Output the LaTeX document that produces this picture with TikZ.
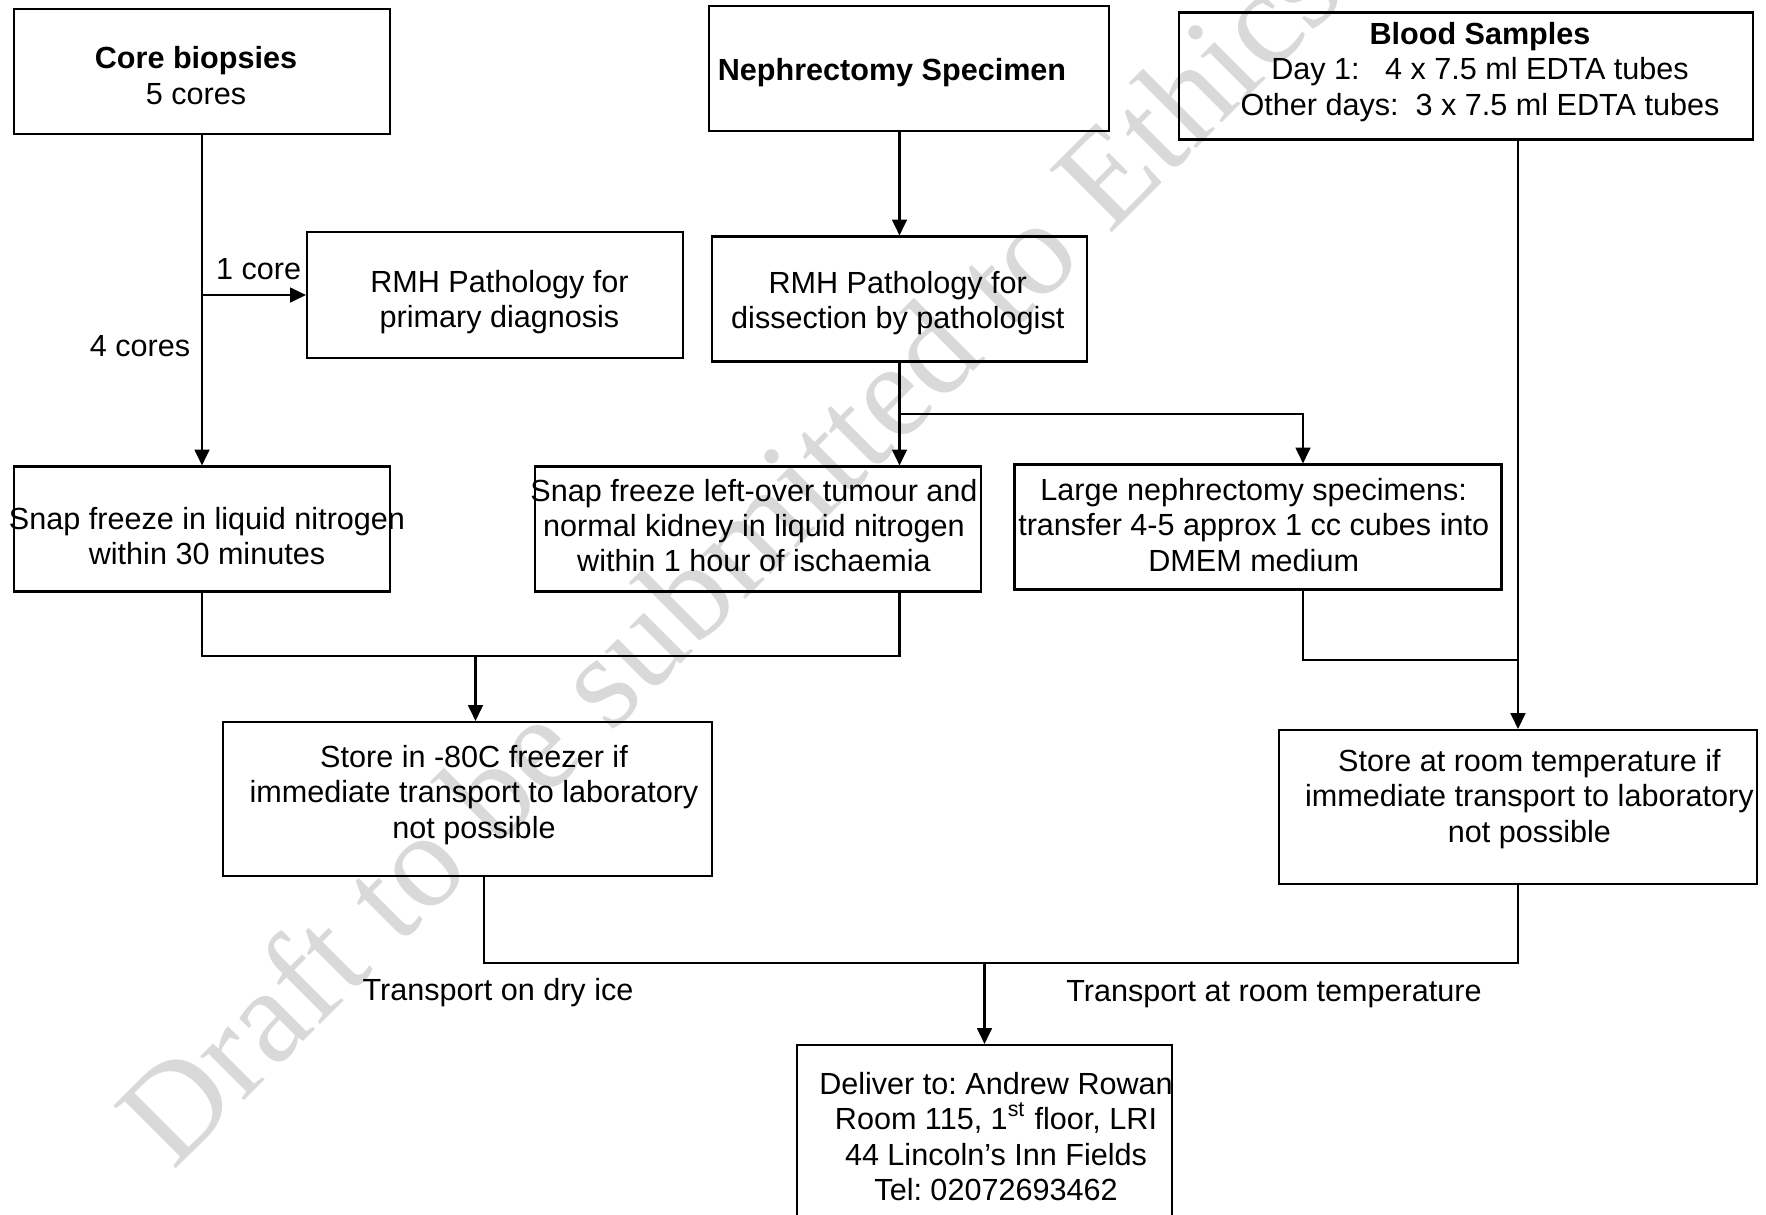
\documentclass[tikz,border=0pt]{standalone}
\usepackage{fontspec}
\setmainfont{Liberation Sans}
\newfontfamily\wmfont{Liberation Serif}
\usetikzlibrary{arrows.meta}
\definecolor{wmgray}{HTML}{D9D9D9}
\frenchspacing
\tikzset{
  box/.style 2 args={draw, line width=0.6pt, minimum width=#1cm, minimum height=#2cm, inner sep=0pt},
  txt/.style={align=center, inner sep=0pt},
  link/.style={line width=0.6pt},
  flow/.style={-{Triangle[length=4.5pt, width=4.2pt]}, line width=0.6pt},
  watermark/.style={text=wmgray, font=\wmfont\fontsize{38.4}{40}\selectfont, inner sep=0pt},
  every node/.append style={font=\fontsize{8.7}{10}\selectfont}
}

\begin{document}
\begin{tikzpicture}
\useasboundingbox (0,0) rectangle (17.66,-12.14);
\clip (0,0) rectangle (17.66,-12.14);
\node[watermark, rotate=45, anchor=base west] (draft) at (1.73,-11.72) {Draft to be submitted to Ethics};

% boxes
\node[box={3.76}{1.25}] (core) at (2.02,-0.715) {};
\node[box={4.00}{1.25}] (neph) at (9.09,-0.685) {};
\node[box={5.74}{1.27}] (blood) at (14.66,-0.76) {};
\node[box={3.76}{1.255}] (rmhprim) at (4.95,-2.95) {};
\node[box={3.75}{1.25}] (rmhdiss) at (8.995,-2.99) {};
\node[box={3.76}{1.25}] (snapcore) at (2.02,-5.29) {};
\node[box={4.46}{1.25}] (snapneph) at (7.58,-5.29) {};
\node[box={4.87}{1.25}] (large) at (12.58,-5.27) {};
\node[box={4.89}{1.536}] (freezer) at (4.675,-7.988) {};
\node[box={4.78}{1.535}] (roomtemp) at (15.18,-8.068) {};
\node[box={3.75}{1.82}] (deliver) at (9.845,-11.36) {};

% texts
\node[txt] (core-t) at (1.96,-0.755) {\textbf{Core biopsies}\\5 cores};
\node[txt] (neph-t) at (8.92,-0.73) {\textbf{Nephrectomy Specimen}};
\node[txt] (blood-t) at (14.80,-0.72) {\textbf{Blood Samples}\\Day 1:\ \ \ 4 x 7.5 ml EDTA tubes\\Other days:\ \ 3 x 7.5 ml EDTA tubes};
\node[txt] (rmhprim-t) at (4.995,-3.02) {RMH Pathology for\\primary diagnosis};
\node[txt] (rmhdiss-t) at (8.978,-3.035) {RMH Pathology for\\dissection by pathologist};
\node[txt] (snapcore-t) at (2.07,-5.36) {Snap freeze in liquid nitrogen\\within 30 minutes};
\node[txt] (snapneph-t) at (7.54,-5.255) {Snap freeze left-over tumour and\\normal kidney in liquid nitrogen\\within 1 hour of ischaemia};
\node[txt] (large-t) at (12.537,-5.25) {Large nephrectomy specimens:\\transfer 4-5 approx 1 cc cubes into\\DMEM medium};
\node[txt] (freezer-t) at (4.74,-7.95) {Store in -80C freezer if\\immediate transport to laboratory\\not possible};
\node[txt] (roomtemp-t) at (15.294,-7.99) {Store at room temperature if\\immediate transport to laboratory\\not possible};
\node[txt] (deliver-t) at (9.96,-11.366) {Deliver to: Andrew Rowan\\Room 115, 1\textsuperscript{st} floor, LRI\\44 Lincoln’s Inn Fields\\Tel: 02072693462};
\node (one) at (2.587,-2.69) {1 core};
\node (four) at (1.40,-3.46) {4 cores};
\node (dry) at (4.98,-9.93) {Transport on dry ice};
\node (ambient) at (12.74,-9.94) {Transport at room temperature};

% connectors
\coordinate (split) at (8.995,-4.14);
\coordinate (cold) at (4.755,-6.56);
\coordinate (warm) at (15.18,-6.60);
\coordinate (out) at (9.845,-9.63);
\draw[flow] (core.south) -- (snapcore.north);
\draw[flow] (core.south |- rmhprim.west) -- (rmhprim.west);
\draw[flow] (neph.south -| rmhdiss.north) -- (rmhdiss.north);
\draw[flow] (rmhdiss.south) -- (rmhdiss.south |- snapneph.north);
\draw[flow] (split) -| ([xshift=0.45cm]large.north);
\draw[link] (snapcore.south) |- (cold) -| (rmhdiss.south |- snapneph.south);
\draw[flow] (cold) -- (cold |- freezer.north);
\draw[link] ([xshift=0.45cm]large.south) |- (warm);
\draw[flow] (blood.south -| roomtemp.north) -- (roomtemp.north);
\draw[link] ([xshift=0.165cm]freezer.south) |- (out) -| (roomtemp.south);
\draw[flow] (out) -- (deliver.north);
\end{tikzpicture}
\end{document}
